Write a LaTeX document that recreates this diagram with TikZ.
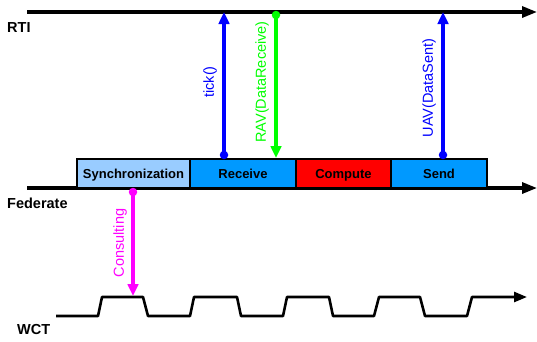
\documentclass[tikz,border=0pt]{standalone}
\usepackage{fontspec}
\setmainfont{Liberation Sans}
\usetikzlibrary{arrows.meta}
\definecolor{syncblue}{HTML}{99CCFF}
\definecolor{stepblue}{HTML}{0099FF}
\definecolor{msgblue}{HTML}{0000FF}
\definecolor{msggreen}{HTML}{00FF00}
\definecolor{msgmagenta}{HTML}{FF00FF}
\definecolor{stepred}{HTML}{FF0000}
\tikzset{
  axis/.style={line width=3.2pt,-{Triangle[length=15pt,width=11pt]}},
  procbox/.style={draw=black,line width=2pt,minimum height=29pt,inner sep=0pt,
    text height=9.3pt,text depth=0pt,
    font=\bfseries\fontsize{13}{15}\selectfont},
  lanelabel/.style={font=\bfseries\fontsize{14.5}{16}\selectfont,inner sep=0pt},
  msg/.style={line width=3.2pt,-{Triangle[length=12pt,width=10.5pt]}},
  dot/.style={circle,inner sep=0pt,minimum size=8.5pt},
  msglabel/.style={rotate=90,font=\fontsize{14.5}{16}\selectfont,inner sep=0pt},
}
\begin{document}
\begin{tikzpicture}[x=1pt,y=-1pt]
\useasboundingbox (0,0) rectangle (537,341);
% RTI lane
\coordinate (rtiS) at (27,12);
\coordinate (rtiE) at (537,12);
\draw[axis] (rtiS) -- (rtiE);
\node[lanelabel,anchor=west] (rti) at (7,28) {RTI};
% Federate lane
\coordinate (fedS) at (27,188);
\coordinate (fedE) at (537,188);
\draw[axis] (fedS) -- (fedE);
\node[lanelabel,anchor=west] (fed) at (7,203) {Federate};
\node[procbox,fill=syncblue,minimum width=113pt] (sync) at (133.5,173.5) {Synchronization};
\node[procbox,fill=stepblue,minimum width=106pt] (recv) at (243,173.5) {Receive};
\node[procbox,fill=stepred,minimum width=95pt] (comp) at (343.5,173.5) {Compute};
\node[procbox,fill=stepblue,minimum width=96pt] (send) at (439,173.5) {Send};
% WCT lane
\node[lanelabel,anchor=west] (wct) at (17,329) {WCT};
\coordinate (w0) at (56,316);
\coordinate (wE) at (527,297);
\draw[line width=2.6pt,line join=round,-{Triangle[length=13pt,width=10pt]}]
  (w0) -- (98,316) -- (102,297) -- (143,297) -- (148,316) -- (190,316) -- (194,297)
  -- (237,297) -- (241,316) -- (283,316) -- (287,297) -- (329,297) -- (333,316)
  -- (374,316) -- (379,297) -- (420,297) -- (425,316) -- (467,316) -- (472,297) -- (wE);
% tick()
\node[dot,fill=msgblue] (tickA) at (224,155) {};
\coordinate (tickB) at (224,12);
\draw[msg,msgblue] (tickA.center) -- (tickB);
\node[msglabel,text=msgblue] (tickL) at (210,82) {tick()};
% RAV(DataReceive)
\node[dot,fill=msggreen] (ravA) at (276,15) {};
\coordinate (ravB) at (276,158);
\draw[msg,msggreen] (ravA.center) -- (ravB);
\node[msglabel,text=msggreen] (ravL) at (262,82) {RAV(DataReceive)};
% UAV(DataSent)
\node[dot,fill=msgblue] (uavA) at (443,155) {};
\coordinate (uavB) at (443,12);
\draw[msg,msgblue] (uavA.center) -- (uavB);
\node[msglabel,text=msgblue] (uavL) at (429,88) {UAV(DataSent)};
% Consulting
\node[dot,fill=msgmagenta] (conA) at (133,192) {};
\coordinate (conB) at (133,296);
\draw[msg,msgmagenta] (conA.center) -- (conB);
\node[msglabel,text=msgmagenta] (conL) at (120,243) {Consulting};
\end{tikzpicture}
\end{document}
